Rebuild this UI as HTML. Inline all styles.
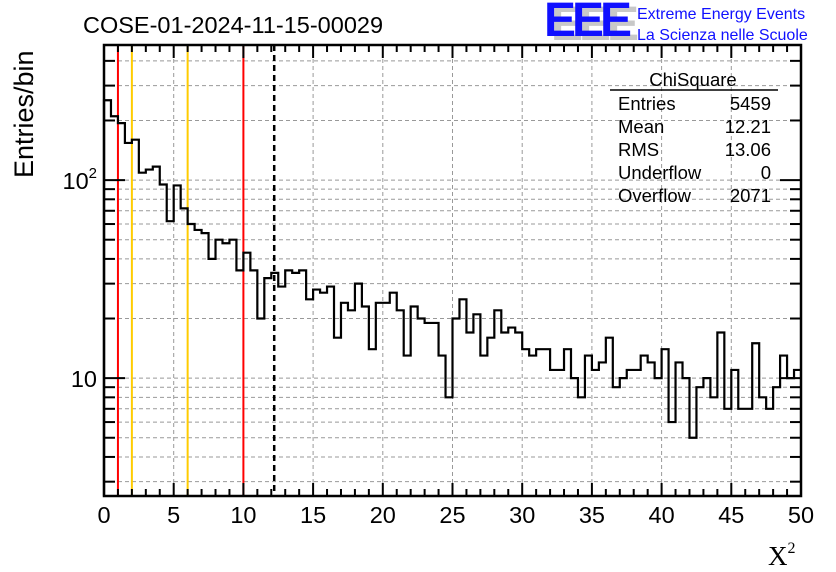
<!DOCTYPE html>
<html><head><meta charset="utf-8">
<style>
html,body{margin:0;padding:0;background:#fff;}
svg{display:block;font-family:"Liberation Sans",Arial,sans-serif;}
</style></head>
<body>
<svg id="chart" width="836" height="572" viewBox="0 0 836 572">
  <text x="83" y="33" font-size="23.5">COSE-01-2024-11-15-00029</text>
  <g>
    <text x="551" y="40" font-size="48" font-weight="bold" fill="#c8c8c8" letter-spacing="-4">EEE</text>
    <text x="544" y="36" font-size="48" font-weight="bold" fill="#1010ff" letter-spacing="-4">EEE</text>
    <text x="637" y="19" font-size="16" fill="#1010ff">Extreme Energy Events</text>
    <text x="637" y="40" font-size="16" fill="#1010ff">La Scienza nelle Scuole</text>
  </g>
  <g id="grid"></g>
  <g id="refs"></g>
  <g id="hist"></g>
  <g id="axes"></g>
  <g font-size="18.5">
    <text x="693" y="86" text-anchor="middle">ChiSquare</text>
    <line x1="610" y1="90" x2="778" y2="90" stroke="#000" stroke-width="1.5"/>
    <text x="618" y="110">Entries</text><text x="771" y="110" text-anchor="end">5459</text>
    <text x="618" y="133">Mean</text><text x="771" y="133" text-anchor="end">12.21</text>
    <text x="618" y="156">RMS</text><text x="771" y="156" text-anchor="end">13.06</text>
    <text x="618" y="179">Underflow</text><text x="771" y="179" text-anchor="end">0</text>
    <text x="618" y="202">Overflow</text><text x="771" y="202" text-anchor="end">2071</text>
  </g>
  <text transform="translate(33,178) rotate(-90)" font-size="27">Entries/bin</text>
  <text x="768" y="565" font-size="27" font-family="Liberation Serif,serif">X<tspan font-size="16" dy="-12">2</tspan></text>
</svg>
<script>
const counts = [253,210,194,154,160,109,113,117,95,62,94,72,60,56,54,40,50,48,50,35,43,35,20,32,34,29,35,34,35,25,28,27,29,16,24,22,30,23,14,24,24,27,22,13,23,20,19,19,13,8,20,25,17,21,13,16,22,17,18,17,14,13,14,14,11,11,14,10,8,13,11,12,16,9,10,11,11,13,12,10,14,6,12,10,5,9,10,8,17,7,11,7,7,15,8,7,9,13,10,11];
const xTicks = [0,5,10,15,20,25,30,35,40,45,50];
const refX = [1,2,6,10];
const refColors = ["#ff0000","#ffcc00","#ffcc00","#ff0000"];
const meanLine = 12.21;
const binWidth = 0.5;

const L=104,R=801,T=45,B=496;
const xMin=0,xMax=50,yMin=2.54,yMax=481;
const NS="http://www.w3.org/2000/svg";
function X(v){return L+(v-xMin)/(xMax-xMin)*(R-L);}
function Y(v){return B-(Math.log10(v)-Math.log10(yMin))/(Math.log10(yMax)-Math.log10(yMin))*(B-T);}
function mk(tag,attrs,parent){const e=document.createElementNS(NS,tag);for(const k in attrs)e.setAttribute(k,attrs[k]);parent.appendChild(e);return e;}

const grid=document.getElementById('grid');
xTicks.forEach(t=>{if(t>xMin&&t<xMax){const l=mk('line',{x1:X(t),x2:X(t),y1:T,y2:B,stroke:'#999','stroke-dasharray':'4,3','stroke-width':1},grid);

}});
const yGrid=[];
for(let d=1;d<=100;d*=10)for(let m=1;m<=9;m++){const v=m*d;if(v>yMin&&v<yMax)yGrid.push(v);}
yGrid.forEach(v=>{const l=mk('line',{x1:L,x2:R,y1:Y(v),y2:Y(v),stroke:'#999','stroke-dasharray':'4,3','stroke-width':1},grid);

});

const refs=document.getElementById('refs');
refX.forEach((v,i)=>{const l=mk('line',{x1:X(v),x2:X(v),y1:T,y2:B,stroke:refColors[i],'stroke-width':2},refs);

});
const ml=mk('line',{x1:X(meanLine),x2:X(meanLine),y1:T,y2:B,stroke:'#000','stroke-width':2.5,'stroke-dasharray':'6,4'},refs);



const hist=document.getElementById('hist');
let d='M'+X(0)+','+B;
counts.forEach((c,i)=>{const y=Y(c);d+=' L'+X(i*binWidth)+','+y+' L'+X((i+1)*binWidth)+','+y;});
const p=mk('path',{d:d,fill:'none',stroke:'#000','stroke-width':2.2},hist);



const axes=document.getElementById('axes');
const fr=mk('rect',{x:L,y:T,width:R-L,height:B-T,fill:'none',stroke:'#000','stroke-width':2.5},axes);


for(let t=xMin;t<=xMax;t++){const len=(t%5===0)?13:7;
 mk('line',{x1:X(t),x2:X(t),y1:B,y2:B-len,stroke:'#000','stroke-width':2},axes);
 mk('line',{x1:X(t),x2:X(t),y1:T,y2:T+len,stroke:'#000','stroke-width':2},axes);}
xTicks.forEach(t=>{const tx=mk('text',{x:X(t),y:B+27,'text-anchor':'middle','font-size':23.5},axes);tx.textContent=t;

});
yGrid.forEach(v=>{const major=(v===10||v===100);const len=major?21:11;
 mk('line',{x1:L,x2:L+len,y1:Y(v),y2:Y(v),stroke:'#000','stroke-width':2},axes);
 mk('line',{x1:R,x2:R-len,y1:Y(v),y2:Y(v),stroke:'#000','stroke-width':2},axes);});
const t10=mk('text',{x:97,y:Y(10)+9,'text-anchor':'end','font-size':23.5},axes);t10.textContent='10';


const t100=mk('text',{x:97,y:Y(100)+9,'text-anchor':'end','font-size':23.5},axes);
t100.innerHTML='10<tspan font-size="15" dy="-11">2</tspan>';


</script>
</body></html>
